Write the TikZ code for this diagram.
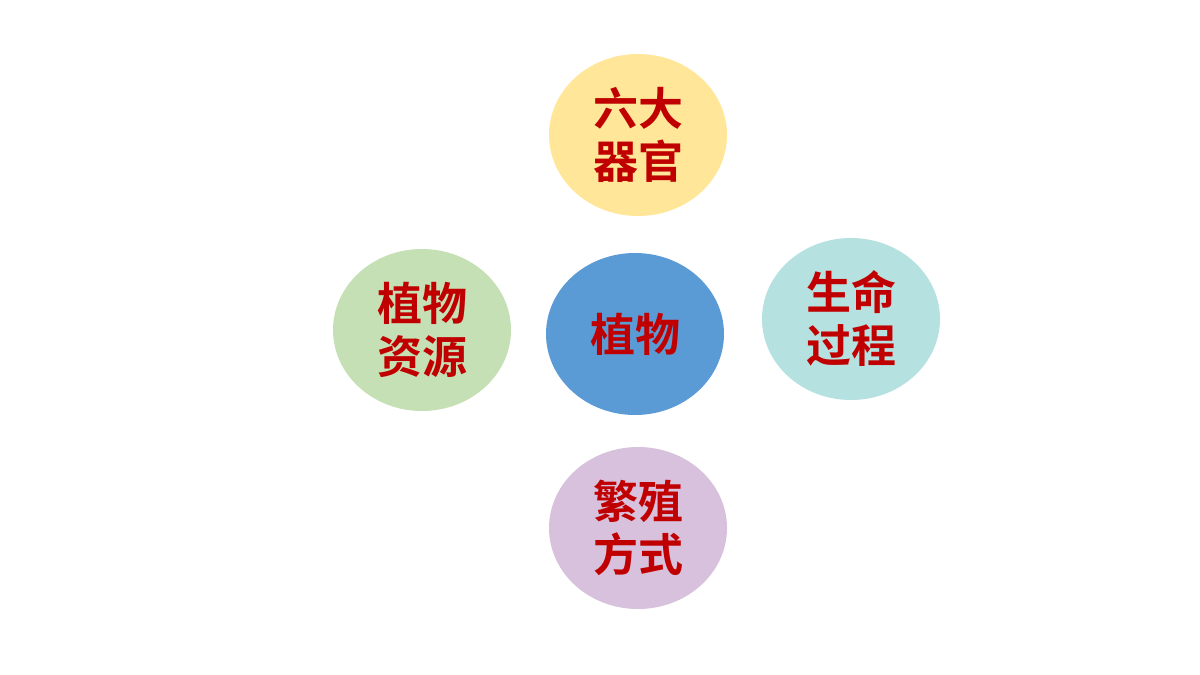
\documentclass[tikz,border=0pt]{standalone}
\usepackage{fontspec}
\newfontfamily\cjk{Noto Sans CJK SC}[BoldFont={Noto Sans CJK SC Bold}]
\usetikzlibrary{shapes.geometric}
\definecolor{cYellow}{HTML}{FFE699}
\definecolor{cBlue}{HTML}{5B9BD5}
\definecolor{cGreen}{HTML}{C5E0B4}
\definecolor{cTeal}{HTML}{B6E1E1}
\definecolor{cLilac}{HTML}{D7C1DC}
\definecolor{cText}{HTML}{C00000}
\tikzset{
  bub/.style={ellipse, minimum width=178pt, minimum height=162pt, inner sep=0pt,
    text=cText, font=\cjk\bfseries\fontsize{45pt}{53pt}\selectfont, align=center}
}
\begin{document}
\begin{tikzpicture}[x=1pt,y=-1pt]
\useasboundingbox (0,0) rectangle (1200,675);
\node[bub, fill=cYellow] (top) at (638,135) {六大\\器官};
\node[bub, fill=cBlue] (ctr) at (635,334) {植物};
\node[bub, fill=cGreen] (lft) at (422,330) {植物\\资源};
\node[bub, fill=cTeal] (rgt) at (851,319) {生命\\过程};
\node[bub, fill=cLilac] (bot) at (638,528) {繁殖\\方式};
\end{tikzpicture}
\end{document}
